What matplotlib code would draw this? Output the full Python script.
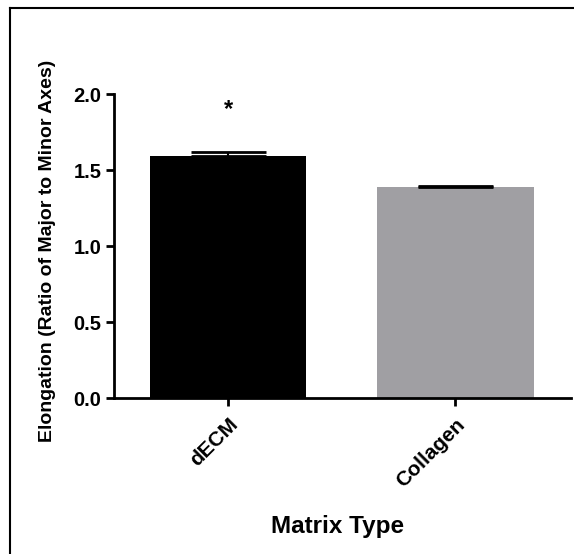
import matplotlib
matplotlib.use("Agg")
import matplotlib.pyplot as plt
from matplotlib.lines import Line2D

categories = ["dECM", "Collagen"]
means = [1.59, 1.385]
errors = [0.028, 0.013]
colors = ["#000000", "#A09FA3"]
yticks = [0.0, 0.5, 1.0, 1.5, 2.0]
ytick_labels = ["0.0", "0.5", "1.0", "1.5", "2.0"]
star_text = "*"
star_y = 1.9

plt.rcParams['font.family'] = ['Liberation Sans', 'DejaVu Sans']
plt.rcParams['font.weight'] = 'bold'

fig = plt.figure(figsize=(5.74, 5.54), dpi=100)
ax = fig.add_axes([114/574, 1-398/554, (571-114)/574, (398-94)/554])

x = list(range(len(categories)))
ax.bar(x, means, width=0.69, color=colors, zorder=2)
for xi, m, e in zip(x, means, errors):
    ax.errorbar(xi, m, yerr=[[0], [e]], fmt='none', ecolor='black',
                elinewidth=1.5, capsize=27, capthick=2, zorder=3)

ax.text(0, star_y, star_text, ha='center', va='center', fontsize=17, fontweight='bold')

ax.set_xlim(-0.502, 1.51)
ax.set_ylim(0, 2.0)
ax.set_yticks(yticks)
ax.set_yticklabels(ytick_labels, fontsize=14.5, fontweight='bold')
ax.set_xticks(x)
ax.set_xticklabels(categories, fontsize=15, fontweight='bold', rotation=45,
                   ha='right', rotation_mode='anchor')

for s in ['top', 'right']:
    ax.spines[s].set_visible(False)
for s in ['left', 'bottom']:
    ax.spines[s].set_linewidth(2)
ax.tick_params(axis='y', width=2, length=6, direction='out', pad=3)
ax.tick_params(axis='x', width=2, length=6, direction='out', pad=6)

ax.set_ylabel("Elongation (Ratio of Major to Minor Axes)", fontsize=14, fontweight='bold')
ax.yaxis.set_label_coords(-0.127, 0.484)
ax.set_xlabel("Matrix Type", fontsize=17.5, fontweight='bold')
ax.xaxis.set_label_coords(0.49, -0.385)

fig.add_artist(Line2D([10/574, 10/574], [0, 1-8/554], color='black', lw=1.5, transform=fig.transFigure))
fig.add_artist(Line2D([10/574, 1], [1-8/554, 1-8/554], color='black', lw=1.5, transform=fig.transFigure))

fig.savefig("out.png", dpi=100)
